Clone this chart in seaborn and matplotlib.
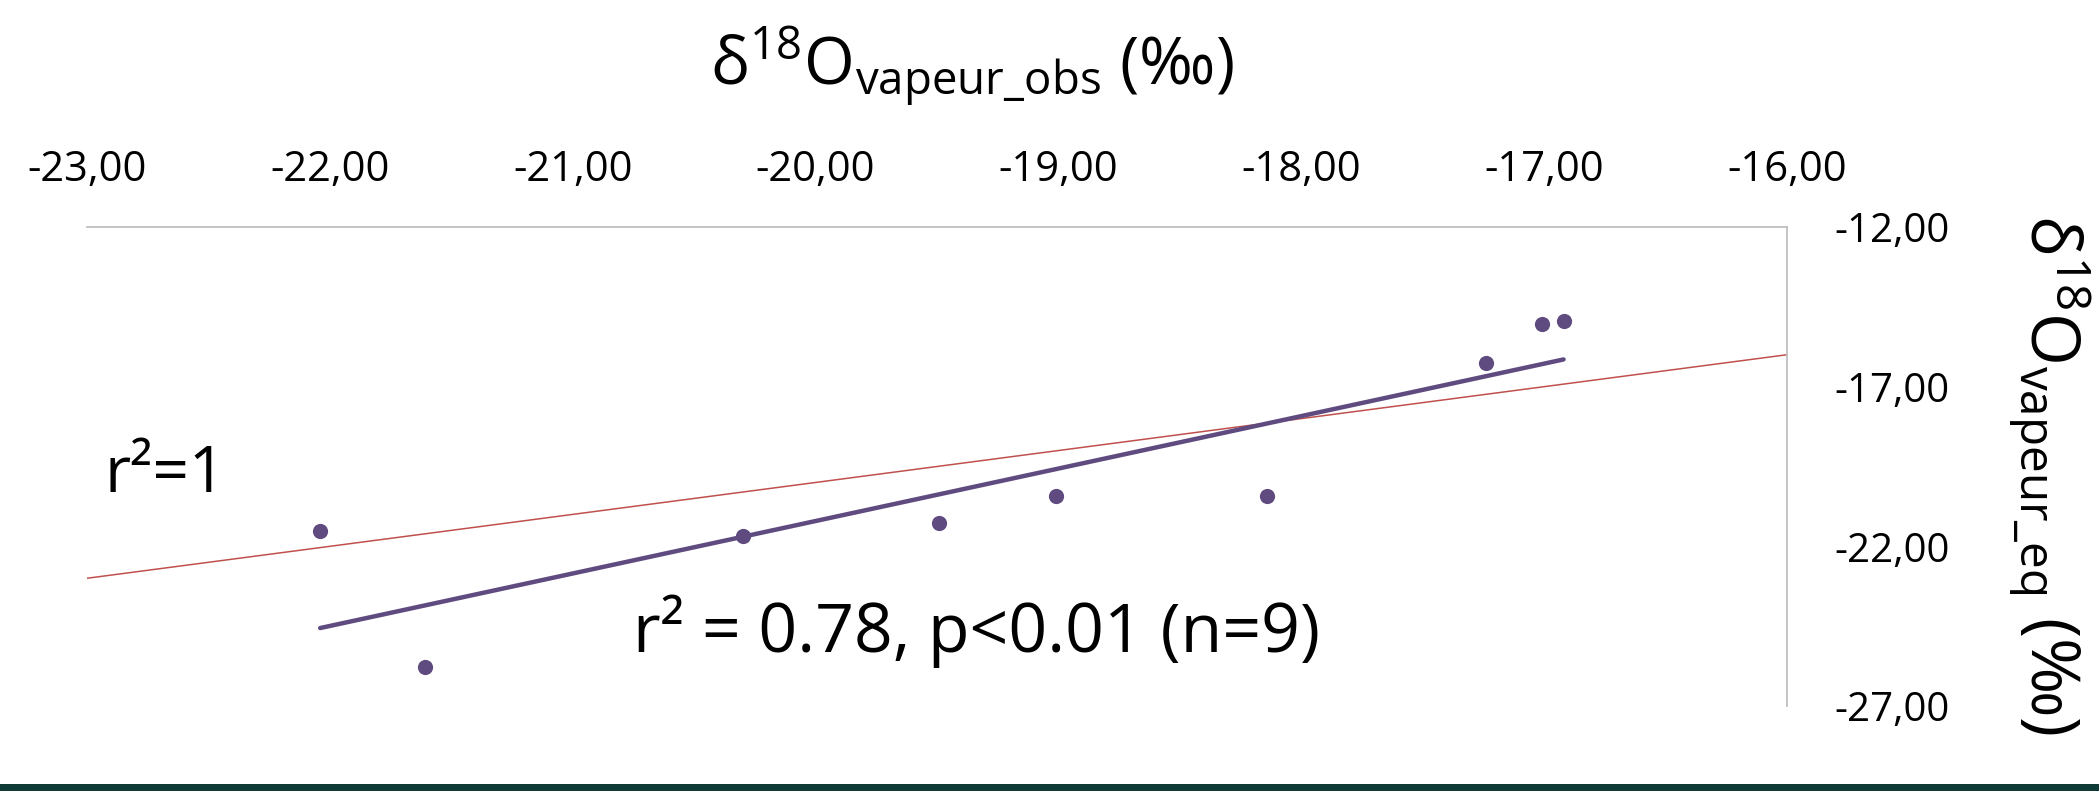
import matplotlib
matplotlib.use("Agg")
import matplotlib.pyplot as plt
import seaborn as sns
import numpy as np
from matplotlib.patches import Rectangle

# ---- data ----
x_obs = [-22.04, -21.61, -20.30, -19.49, -19.01, -18.14, -17.24, -17.01, -16.92]
y_eq = [-21.52, -25.78, -21.68, -21.27, -20.42, -20.42, -16.26, -15.04, -14.94]
one_to_one_x = [-23.0, -16.0]
one_to_one_y = [-23.0, -16.0]
x_ticks = [-23, -22, -21, -20, -19, -18, -17, -16]
x_tick_labels = ["-23,00", "-22,00", "-21,00", "-20,00", "-19,00", "-18,00", "-17,00", "-16,00"]
y_ticks = [-27, -22, -17, -12]
y_tick_labels = ["-27,00", "-22,00", "-17,00", "-12,00"]
label_one = "r²=1"
label_fit = "r² = 0.78, p<0.01 (n=9)"
x_title = r"δ$^{\mathregular{18}}$O$_{\mathregular{vapeur\_obs}}$ (‰)"
y_title = r"δ$^{\mathregular{18}}$O$_{\mathregular{vapeur\_eq}}$ (‰)"

# ---- style ----
sns.set_theme(style="white")
plt.rcParams["font.family"] = ["Open Sans", "DejaVu Sans"]
plt.rcParams["mathtext.fontset"] = "custom"
plt.rcParams["mathtext.rm"] = "Open Sans"
plt.rcParams["mathtext.it"] = "Open Sans:italic"
plt.rcParams["mathtext.bf"] = "Open Sans:bold"

purple = "#5F4B7F"
red = "#C0504D"
W, H = 2099, 793
fig = plt.figure(figsize=(W / 100, H / 100), dpi=100)
fig.patch.set_facecolor("white")
ax = fig.add_axes([87 / W, 1 - 706 / H, (1787 - 87) / W, (706 - 227) / H])

ax.plot(one_to_one_x, one_to_one_y, color=red, lw=1.1, zorder=2)
sns.regplot(x=np.array(x_obs), y=np.array(y_eq), ax=ax, ci=None, truncate=True,
            scatter_kws=dict(s=120, color=purple, linewidths=0, zorder=4, alpha=1),
            line_kws=dict(lw=3.2, color=purple, solid_capstyle="round", zorder=3))

ax.set_xlim(-23, -16)
ax.set_ylim(-27, -12)
ax.set_xlabel("")
ax.set_ylabel("")
ax.xaxis.tick_top()
ax.yaxis.tick_right()
ax.set_xticks(x_ticks, labels=x_tick_labels)
ax.set_yticks(y_ticks, labels=y_tick_labels)
ax.tick_params(axis="x", length=0, pad=26, labelsize=30, labelcolor="black")
ax.tick_params(axis="y", length=0, pad=34, labelsize=29, labelcolor="black")
for s in ["left", "bottom"]:
    ax.spines[s].set_visible(False)
for s in ["top", "right"]:
    ax.spines[s].set_visible(True)
    ax.spines[s].set_color("#BFBFBF")
    ax.spines[s].set_linewidth(1.3)
ax.grid(False)

ax.text(-22.93, -20.30, label_one, fontsize=46, va="baseline", ha="left", color="black")
ax.text(-20.75, -25.31, label_fit, fontsize=49, va="baseline", ha="left", color="black")

fig.text(972 / W, 1 - 84 / H, x_title, fontsize=47, ha="center", va="baseline", color="black")
fig.text(2050 / W, 1 - 475 / H, y_title, fontsize=49, ha="center", va="center",
         rotation=270, color="black")

fig.add_artist(Rectangle((0, 2 / H), 1, 7 / H, transform=fig.transFigure,
                         facecolor="#0E3B36", edgecolor="none"))

fig.savefig("out.png", dpi=100, facecolor="white")
